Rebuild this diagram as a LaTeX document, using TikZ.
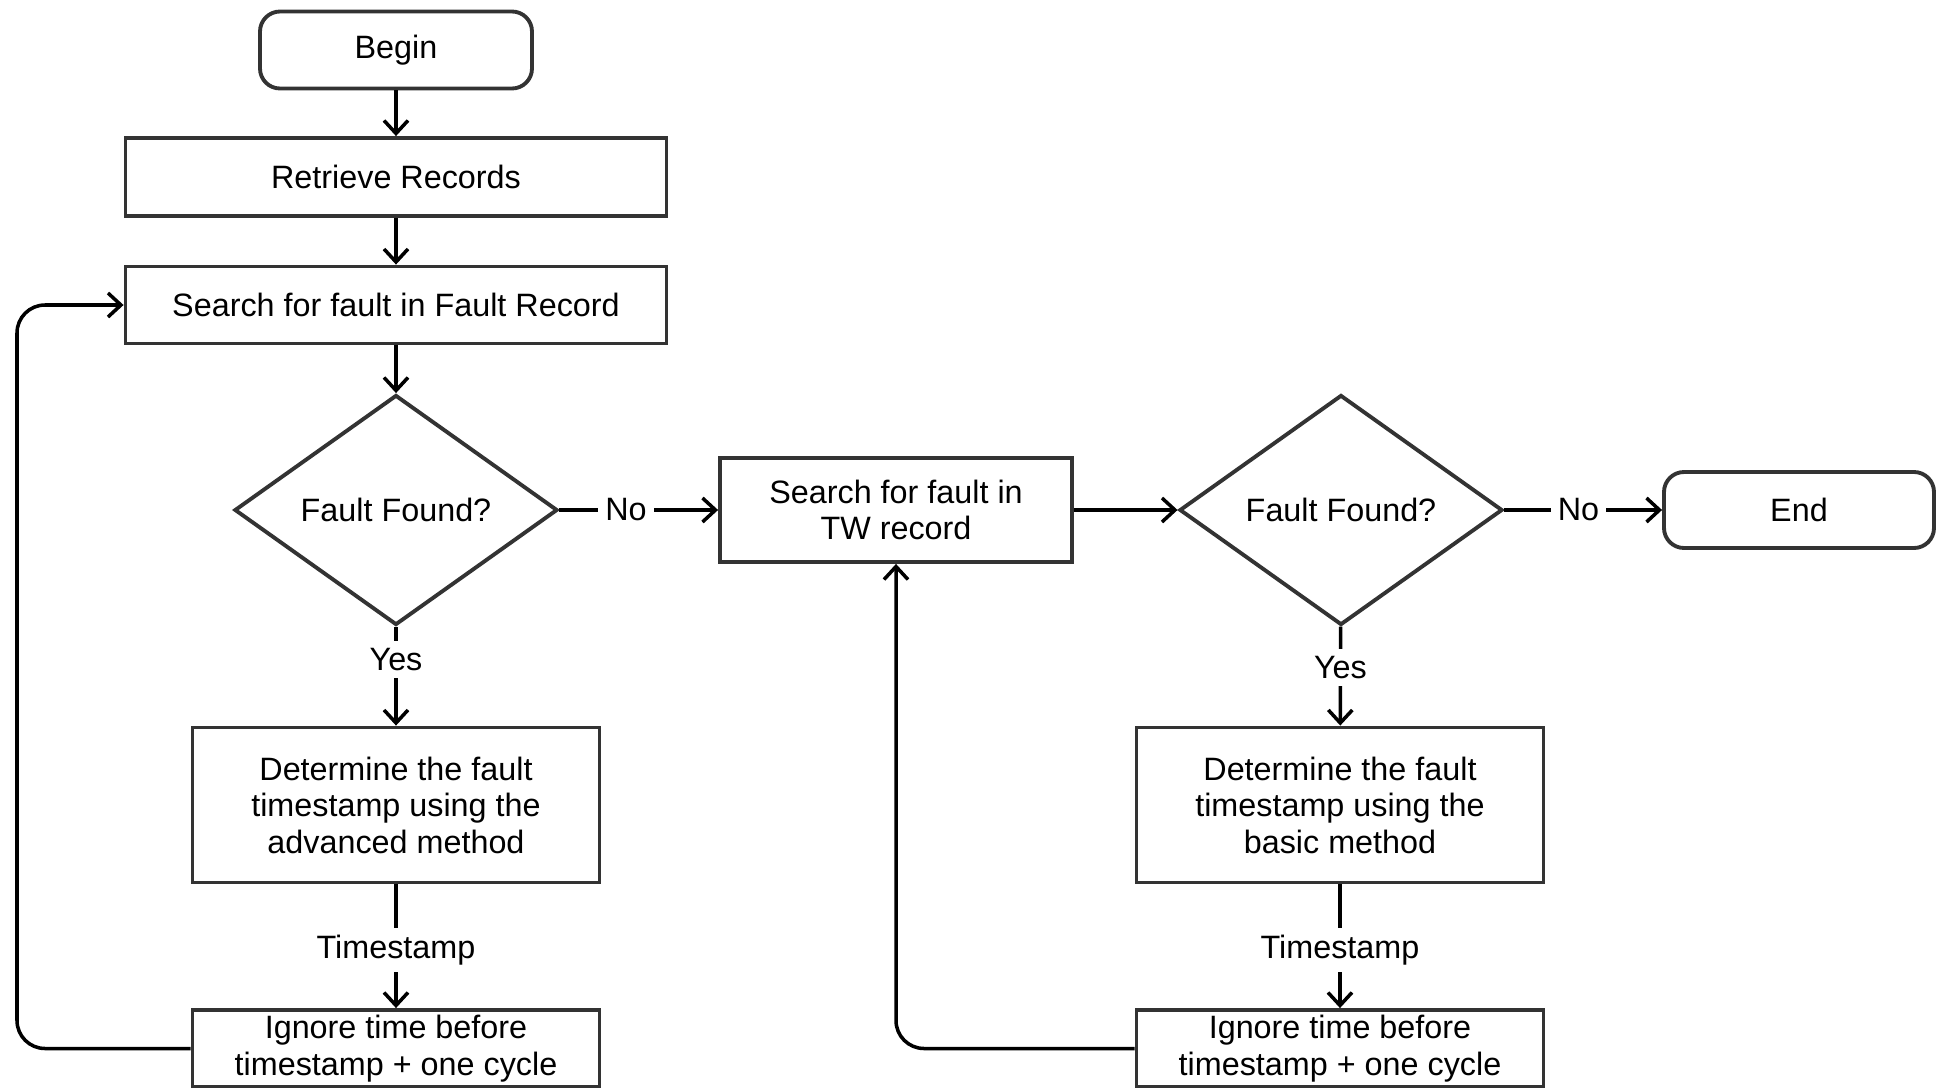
\documentclass[tikz,border=0pt]{standalone}
\usepackage{fontspec}
\setmainfont{Liberation Sans}
\usetikzlibrary{shapes.geometric,arrows.meta}

\begin{document}
\begin{tikzpicture}[
    font=\fontsize{9.2}{10.4}\selectfont,
    box/.style={draw=black!80, line width=1.1pt, rectangle, align=center, inner sep=0pt},
    term/.style={box, rounded corners=0.2cm},
    decision/.style={draw=black!80, line width=1.1pt, diamond, inner sep=0pt, minimum width=3.23cm, minimum height=2.30cm},
    flow/.style={line width=1pt, -{Straight Barb[length=1.3mm, width=2.4mm]}},
    lbl/.style={fill=white, inner sep=2pt}
]
    \useasboundingbox (0,0) rectangle (19.36,-10.88);
    \node [term, minimum width=2.72cm, minimum height=0.77cm] (begin) at (3.96,-0.50) {Begin};
    \node [box, minimum width=5.41cm, minimum height=0.78cm] (retrieve) at (3.96,-1.77) {Retrieve Records};
    \node [box, minimum width=5.41cm, minimum height=0.77cm] (searchfr) at (3.96,-3.05) {Search for fault in Fault Record};
    \node [decision] (found1) at (3.96,-5.10) {Fault Found?};
    \node [box, minimum width=4.07cm, minimum height=1.55cm] (advanced) at (3.96,-8.05) {Determine the fault\\timestamp using the\\advanced method};
    \node [box, minimum width=4.07cm, minimum height=0.77cm] (ignore1) at (3.96,-10.485) {Ignore time before\\timestamp + one cycle};
    \node [box, minimum width=3.52cm, minimum height=1.04cm] (searchtw) at (8.96,-5.10) {Search for fault in\\TW record};
    \node [decision] (found2) at (13.41,-5.10) {Fault Found?};
    \node [term, minimum width=2.70cm, minimum height=0.76cm] (finish) at (17.99,-5.10) {End};
    \node [box, minimum width=4.07cm, minimum height=1.55cm] (basic) at (13.40,-8.05) {Determine the fault\\timestamp using the\\basic method};
    \node [box, minimum width=4.07cm, minimum height=0.77cm] (ignore2) at (13.40,-10.485) {Ignore time before\\timestamp + one cycle};

    \draw [flow] (begin) -- (retrieve);
    \draw [flow] (retrieve) -- (searchfr);
    \draw [flow] (searchfr) -- (found1);
    \draw [flow] (found1) -- node[lbl, pos=0.33]{Yes} (advanced);
    \draw [flow] (advanced) -- node[lbl, pos=0.53]{Timestamp} (ignore1);
    \draw [flow] (found1) -- node[lbl, pos=0.42]{No} (searchtw);
    \draw [flow] (searchtw) -- (found2);
    \draw [flow] (found2) -- node[lbl, pos=0.47]{No} (finish);
    \draw [flow] (found2) -- node[lbl, pos=0.41]{Yes} (basic);
    \draw [flow] (basic) -- node[lbl, pos=0.53]{Timestamp} (ignore2);
    \draw [flow, rounded corners=0.28cm] (ignore1.west) -- (0.17,-10.485) |- (searchfr.west);
    \draw [flow, rounded corners=0.28cm] (ignore2.west) -| (searchtw.south);
\end{tikzpicture}
\end{document}
